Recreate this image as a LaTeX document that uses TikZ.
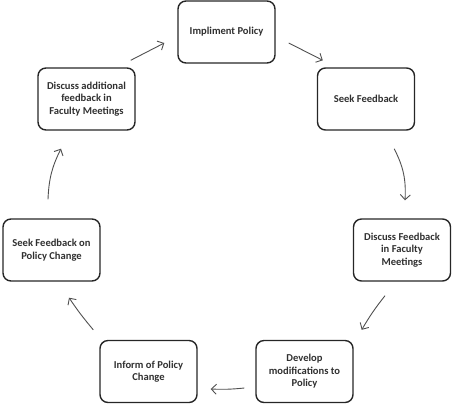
\documentclass[tikz,border=0pt]{standalone}
\usepackage{fontspec}
\setmainfont{Carlito}
\usetikzlibrary{arrows.meta}
\definecolor{boxline}{HTML}{262626}
\definecolor{arrline}{HTML}{505050}
\definecolor{txt}{HTML}{303030}
\tikzset{
  stepbox/.style={draw=boxline, line width=1.4bp, rounded corners=8bp, minimum width=97bp, minimum height=62bp, align=center, inner sep=0pt, font=\fontsize{10.6}{12.5}\selectfont\bfseries, text=txt},
  arr/.style={draw=arrline, line width=0.9bp, -{Straight Barb[length=5bp,width=10bp]}},
}
\begin{document}
\begin{tikzpicture}[x=1bp,y=-1bp]
\useasboundingbox (0,0) rectangle (452,406);
\node[stepbox] (n1) at (226.5,32) {Impliment Policy};
\node[stepbox] (n2) at (366,99) {Seek Feedback};
\node[stepbox] (n3) at (402,250) {Discuss Feedback\\in Faculty\\Meetings};
\node[stepbox] (n4) at (304.5,371.5) {Develop\\modifications to\\Policy};
\node[stepbox] (n5) at (148.5,371.5) {Inform of Policy\\Change};
\node[stepbox] (n6) at (51.5,250) {Seek Feedback on\\Policy Change};
\node[stepbox] (n7) at (86.5,99) {Discuss additional\\feedback in\\Faculty Meetings};
\draw[arr] ([shift={(-5,-7)}]n7.north east) -- ([shift={(-13,11)}]n1.west);
\draw[arr] ([shift={(13,11)}]n1.east) -- ([shift={(6,-7)}]n2.north west);
\draw[arr] ([shift={(-21,18)}]n2.south east) to[bend left=15] ([shift={(3,-18)}]n3.north);
\draw[arr] ([shift={(-17,14)}]n3.south) to[bend right=4] ([shift={(8,-10)}]n4.north east);
\draw[arr] ([shift={(-11,16.5)}]n4.west) to[bend left=4] ([shift={(13,17.5)}]n5.east);
\draw[arr] ([shift={(-6,-10)}]n5.north west) to[bend left=3] ([shift={(17.5,16)}]n6.south);
\draw[arr] ([shift={(-3.5,-19)}]n6.north) to[bend left=12] ([shift={(-25.5,18)}]n7.south);
\end{tikzpicture}
\end{document}
